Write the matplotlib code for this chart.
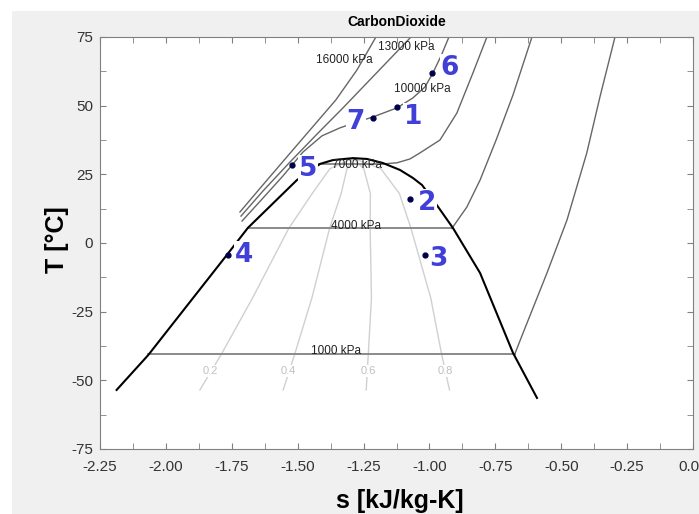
import matplotlib
matplotlib.use('Agg')
import matplotlib.pyplot as plt
from matplotlib.patches import Rectangle
from matplotlib.ticker import MultipleLocator, FormatStrFormatter

plt.rcParams['font.family'] = ['Liberation Sans', 'DejaVu Sans']
plt.rcParams['axes.unicode_minus'] = False

# saturation dome (s in kJ/kg-K, T in C)
dome_s = [-2.187, -2.067, -1.769, -1.689, -1.503, -1.415, -1.366, -1.290, -1.237,
          -1.176, -1.112, -1.063, -1.028, -0.972, -0.911, -0.808, -0.683, -0.592]
dome_T = [-53.5, -40.8, -4.4, 5.5, 22.9, 28.8, 30.2, 30.9, 30.6,
          29.1, 26.6, 23.7, 21.1, 13.8, 5.5, -10.9, -40.0, -56.4]

# quality lines
q_T = [-53.5, -40.4, -20.0, 5.3, 18.0, 27.0, 30.9]
q02_s = [-1.871, -1.789, -1.671, -1.534, -1.445, -1.378, -1.290]
q04_s = [-1.555, -1.511, -1.446, -1.379, -1.335, -1.313, -1.290]
q06_s = [-1.240, -1.232, -1.220, -1.225, -1.224, -1.249, -1.290]
q08_s = [-0.924, -0.954, -0.995, -1.070, -1.114, -1.184, -1.290]
q_labels = ['0.2', '0.4', '0.6', '0.8']
q_label_s = [-1.833, -1.537, -1.233, -0.941]
q_label_T = -46.6

# isobars: two-phase part (horizontal) and superheated / supercritical part
sat_s = {'1000': [-2.067, -0.676], '4000': [-1.689, -0.915], '7000': [-1.423, -1.176]}
sat_T = {'1000': -40.4, '4000': 5.3, '7000': 28.8}

p1000_s = [-0.676, -0.645, -0.554, -0.478, -0.403, -0.353, -0.296]
p1000_T = [-40.4, -32.8, -10.9, 8.4, 32.8, 53.2, 75.0]
p4000_s = [-0.915, -0.858, -0.808, -0.747, -0.683, -0.611]
p4000_T = [5.3, 13.1, 22.9, 37.5, 53.9, 75.0]
p7000_s = [-1.176, -1.123, -1.074, -1.036, -0.960, -0.896, -0.835, -0.782]
p7000_T = [28.8, 29.2, 30.6, 32.8, 37.5, 47.3, 61.9, 75.0]
p10000_s = [-1.711, -1.635, -1.556, -1.480, -1.408, -1.340, -1.264, -1.214,
            -1.123, -1.063, -1.017, -0.987, -0.956, -0.926]
p10000_T = [8.0, 16.0, 24.4, 33.1, 39.0, 41.9, 44.4, 45.9,
            49.2, 52.8, 56.8, 61.9, 68.1, 75.0]
p13000_s = [-1.715, -1.632, -1.529, -1.423, -1.328, -1.245, -1.154, -1.070]
p13000_T = [9.8, 18.9, 29.5, 40.0, 49.2, 57.5, 66.6, 75.0]
p16000_s = [-1.719, -1.635, -1.544, -1.450, -1.355, -1.275, -1.203]
p16000_T = [11.3, 20.8, 31.0, 41.5, 52.1, 63.0, 75.0]

iso_labels = ['16000 kPa', '13000 kPa', '10000 kPa', '7000 kPa', '4000 kPa', '1000 kPa']
iso_label_s = [-1.324, -1.089, -1.028, -1.275, -1.279, -1.355]
iso_label_T = [66.8, 71.2, 55.9, 28.4, 6.2, -39.3]

# state points
pt_names = ['1', '2', '3', '4', '5', '6', '7']
pt_s = [-1.123, -1.074, -1.017, -1.766, -1.520, -0.990, -1.214]
pt_T = [49.5, 16.0, -4.4, -4.2, 28.4, 61.9, 45.5]
lab_s = [-1.063, -1.010, -0.968, -1.703, -1.461, -0.922, -1.279]
lab_T = [47.0, 15.7, -4.7, -3.3, 28.0, 64.8, 45.1]

fig = plt.figure(figsize=(6.99, 5.14), dpi=100)
fig.patch.set_facecolor('white')
fig.patches.append(Rectangle((12 / 699, 0), 1, 1 - 11 / 514, transform=fig.transFigure,
                             facecolor='#f0f0f0', edgecolor='none', zorder=-10))
ax = fig.add_axes([100 / 699, 1 - 449 / 514, 593 / 699, 412 / 514])
ax.set_facecolor('white')

# quality lines
for qs in [q02_s, q04_s, q06_s, q08_s]:
    ax.plot(qs, q_T, color='#d0d0d0', lw=1.0, zorder=1)
for lab, s in zip(q_labels, q_label_s):
    ax.text(s, q_label_T, lab, color='#c0c0c0', fontsize=8, ha='center', va='center',
            bbox=dict(facecolor='white', edgecolor='none', pad=1), zorder=3)

# isobars
for key in sat_s:
    ax.plot(sat_s[key], [sat_T[key]] * 2, color='#8a8a8a', lw=1.4, zorder=2)
for xs, ys in [(p1000_s, p1000_T), (p4000_s, p4000_T), (p7000_s, p7000_T),
               (p10000_s, p10000_T), (p13000_s, p13000_T), (p16000_s, p16000_T)]:
    ax.plot(xs, ys, color='#666666', lw=1.0, zorder=2)
for lab, s, t in zip(iso_labels, iso_label_s, iso_label_T):
    ax.text(s, t, lab, color='#222222', fontsize=8.5, ha='center', va='center', zorder=4)

# saturation dome
ax.plot(dome_s, dome_T, color='black', lw=1.5, zorder=3)

# state points
ax.plot(pt_s, pt_T, 'o', color='#00004a', markersize=3.5, zorder=7)
for name, s, t in zip(pt_names, lab_s, lab_T):
    ax.text(s, t, name, color='#4040d8', fontsize=19, fontweight='bold',
            family='DejaVu Sans', ha='center', va='center_baseline',
            bbox=dict(facecolor='white', edgecolor='none', pad=0.5), zorder=6)

ax.set_xlim(-2.25, 0)
ax.set_ylim(-75, 75)
ax.xaxis.set_major_locator(MultipleLocator(0.25))
ax.xaxis.set_minor_locator(MultipleLocator(0.125))
ax.yaxis.set_major_locator(MultipleLocator(25))
ax.yaxis.set_minor_locator(MultipleLocator(12.5))
ax.xaxis.set_major_formatter(FormatStrFormatter('%.2f'))
ax.tick_params(which='both', direction='in', top=True, right=True, length=4,
               color='#808080', labelsize=11, labelcolor='#333333')
ax.tick_params(axis='x', pad=8)
ax.tick_params(axis='y', pad=5)
for sp in ax.spines.values():
    sp.set_color('#808080')

ax.set_title('CarbonDioxide', fontsize=10, fontweight='bold', pad=8)
ax.set_xlabel('s [kJ/kg-K]', fontsize=18, fontweight='bold')
ax.set_ylabel('T [°C]', fontsize=18, fontweight='bold')
ax.xaxis.set_label_coords(0.506, -0.097)
ax.yaxis.set_label_coords(-0.052, 0.507)

fig.savefig('out.png', dpi=100, facecolor=fig.get_facecolor())
